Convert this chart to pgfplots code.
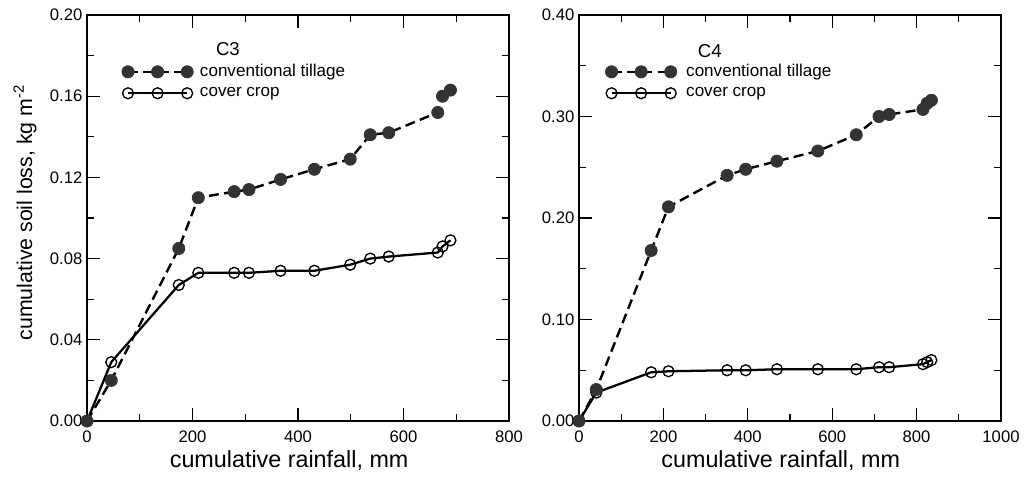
\documentclass[border=0pt]{standalone}
\usepackage{fontspec}
\setmainfont{Liberation Sans}
\usepackage{pgfplots}
\pgfplotsset{compat=1.18}
\definecolor{mk}{HTML}{333333}
\pgfplotsset{
  myaxis/.style={
    scale only axis, width=316.5pt, height=304.5pt,
    axis line style={line width=0.9pt},
    every tick/.style={line width=0.9pt, black},
    major tick length=10pt, minor tick length=5pt,
    tick align=inside,
    ticklabel style={font=\fontsize{12.5}{14}\selectfont},
    xticklabel style={yshift=-4pt},
    /pgf/number format/assume math mode=true,
    /pgf/number format/1000 sep={},
    yticklabel style={/pgf/number format/.cd, fixed, fixed zerofill, precision=2},
    xlabel style={font=\fontsize{17.5}{19}\selectfont, at={(axis description cs:0.479,-0.114)}, anchor=base},
    ylabel style={font=\fontsize{16}{18}\selectfont, at={(axis description cs:-0.130,0.5135)}, anchor=base},
    minor x tick num=1, minor y tick num=1,
    clip=false,
    legend cell align=left,
    legend style={draw=none, fill=none, font=\fontsize{12.8}{14}\selectfont, inner sep=0pt, row sep=2.5pt},
    legend image code/.code={\draw[mark repeat=1,##1] plot coordinates {(0cm,0cm) (0.78cm,0cm) (1.56cm,0cm)};},
    reverse legend,
  },
  ct/.style={black, line width=1.8pt, dash pattern=on 7.5pt off 4pt, mark=*, mark size=4.6pt, mark options={solid, fill=mk, draw=mk, line width=0.5pt}},
  cc/.style={black, line width=1.7pt, mark=o, mark size=4.1pt, mark options={solid, draw=black, fill=white, line width=1pt}},
}
\begin{document}
\begin{tikzpicture}
\useasboundingbox (0,0) rectangle (768pt,357pt);
\begin{axis}[myaxis, at={(65.25pt,41.25pt)}, anchor=south west,
  xmin=0, xmax=800, ymin=0, ymax=0.2,
  xtick={0,200,400,600,800}, ytick={0,0.04,0.08,0.12,0.16,0.20},
  xlabel={cumulative rainfall, mm},
  ylabel={cumulative soil loss, kg m\textsuperscript{-2}},
  legend style={at={(0.082,0.885)}, anchor=north west, /tikz/every odd column/.append style={column sep=3pt}}]
\addplot[cc] coordinates {(0,0) (46,0.029) (174,0.067) (211,0.073) (279,0.073) (307,0.073) (367,0.074) (431,0.074) (499,0.077) (537,0.080) (572,0.081) (665,0.083) (674,0.086) (689,0.089)};
\addlegendentry{cover crop}
\addplot[ct] coordinates {(0,0) (46,0.020) (174,0.085) (211,0.110) (279,0.113) (307,0.114) (367,0.119) (431,0.124) (499,0.129) (537,0.141) (572,0.142) (665,0.152) (674,0.160) (689,0.163)};
\addlegendentry{conventional tillage}
\node[font=\fontsize{14}{16}\selectfont, inner sep=1pt] at (rel axis cs:0.334,0.915) {C3};
\end{axis}
\begin{axis}[myaxis, at={(434.25pt,41.25pt)}, anchor=south west,
  xmin=0, xmax=1000, ymin=0, ymax=0.4,
  xtick={0,200,400,600,800,1000}, ytick={0,0.1,0.2,0.3,0.4},
  xlabel={cumulative rainfall, mm},
  xlabel style={at={(axis description cs:0.478,-0.114)}},
  legend style={at={(0.062,0.885)}, anchor=north west, /tikz/every odd column/.append style={column sep=5pt}}]
\addplot[cc] coordinates {(0,0) (41,0.028) (171,0.048) (212,0.049) (351,0.050) (395,0.050) (469,0.051) (566,0.051) (657,0.051) (711,0.053) (735,0.053) (815,0.056) (825,0.058) (835,0.060)};
\addlegendentry{cover crop}
\addplot[ct] coordinates {(0,0) (41,0.031) (171,0.168) (212,0.211) (351,0.242) (395,0.248) (469,0.256) (566,0.266) (657,0.282) (711,0.300) (735,0.302) (815,0.307) (825,0.313) (835,0.316)};
\addlegendentry{conventional tillage}
\node[font=\fontsize{14}{16}\selectfont, inner sep=1pt] at (rel axis cs:0.31,0.912) {C4};
\end{axis}
\end{tikzpicture}
\end{document}
